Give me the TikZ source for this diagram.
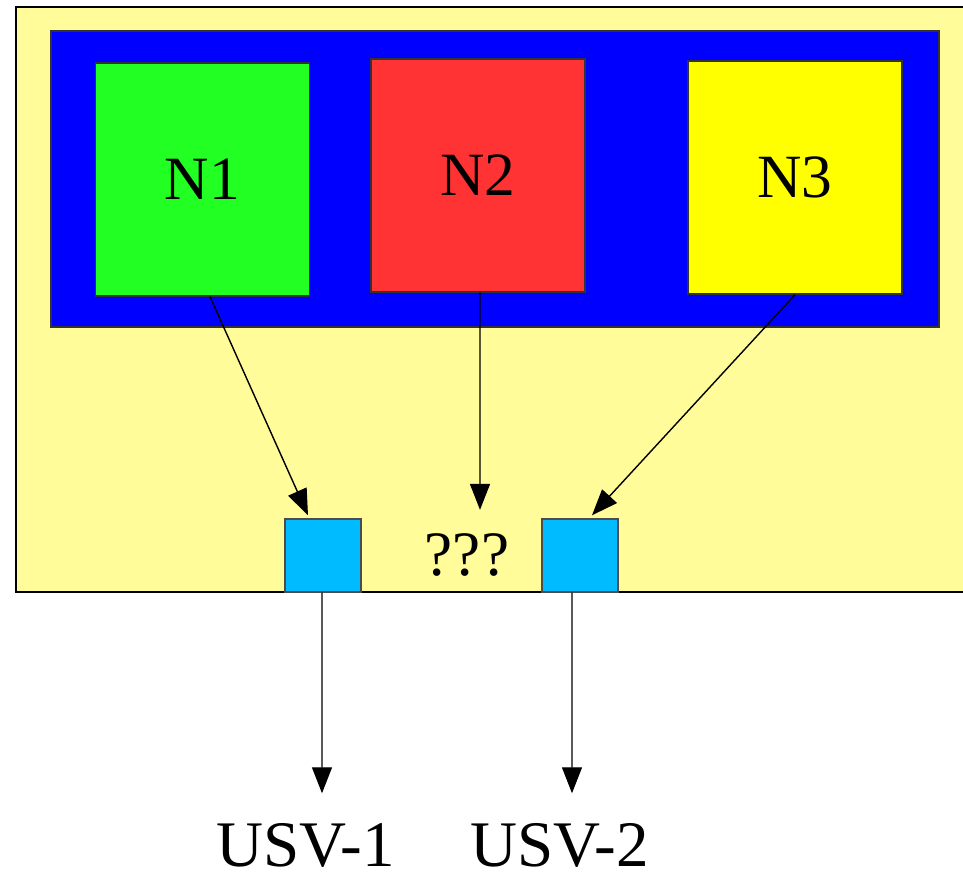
\documentclass[tikz,border=0pt]{standalone}
\usepackage{fontspec}
\setmainfont{Liberation Serif}
\usetikzlibrary{arrows.meta,calc}
\definecolor{paleyellow}{RGB}{255,252,153}
\definecolor{nodegreen}{RGB}{34,255,34}
\definecolor{nodered}{RGB}{255,51,51}
\definecolor{nodeyellow}{RGB}{255,255,0}
\definecolor{usvblue}{RGB}{0,187,255}

\begin{document}
\begin{tikzpicture}[
  font=\fontsize{17.5}{21}\selectfont,
  nbox/.style={draw=black!80,line width=0.4pt,minimum width=2.14cm,minimum height=2.33cm,inner sep=0pt},
  ubox/.style={draw=black!70,line width=0.4pt,fill=usvblue,minimum width=0.76cm,minimum height=0.73cm,inner sep=0pt},
  lbl/.style={inner sep=0pt},
  link/.style={-{Triangle[length=2.6mm,width=2mm]},line width=0.4pt}
]
\useasboundingbox (0,0) rectangle (9.63,8.75);

% cluster background
\draw[fill=paleyellow,line width=0.6pt] (0.16,2.83) rectangle (9.75,8.68);
\draw[fill=blue,draw=black!80,line width=0.4pt] (0.51,5.48) rectangle (9.39,8.44);

% nodes
\node[nbox,fill=nodegreen]  (n1) at (2.025,6.955) {N1};
\node[nbox,fill=nodered]    (n2) at (4.78,6.995) {N2};
\node[nbox,fill=nodeyellow] (n3) at (7.95,6.975) {N3};

% usv ports
\node[ubox] (usvl) at (3.23,3.195) {};
\node[ubox] (usvr) at (5.80,3.195) {};
\node[lbl]  (q)    at (4.67,3.20) {\fontsize{18}{21}\selectfont ???};

% outputs
\node[lbl] (usv1) at (3.06,0.30) {\fontsize{18.5}{22}\selectfont USV-1};
\node[lbl] (usv2) at (5.60,0.30) {\fontsize{18.5}{22}\selectfont USV-2};

\draw[link] ([xshift=0.75mm]n1.south) -- ([xshift=-1.5mm,yshift=0.3mm]usvl.north);
\draw[link] ([xshift=0.2mm]n2.south) -- ($(q.north)+(0.13,0.23)$);
\draw[link] (n3.south) -- ([xshift=1.2mm,yshift=0.3mm]usvr.north);

\draw[link] ([xshift=-0.1mm]usvl.south) -- ($(usvl.south |- usv1.north)+(-0.01,0.29)$);
\draw[link] ([xshift=-0.8mm]usvr.south) -- ($(usvr.south |- usv2.north)+(-0.08,0.29)$);
\end{tikzpicture}
\end{document}
